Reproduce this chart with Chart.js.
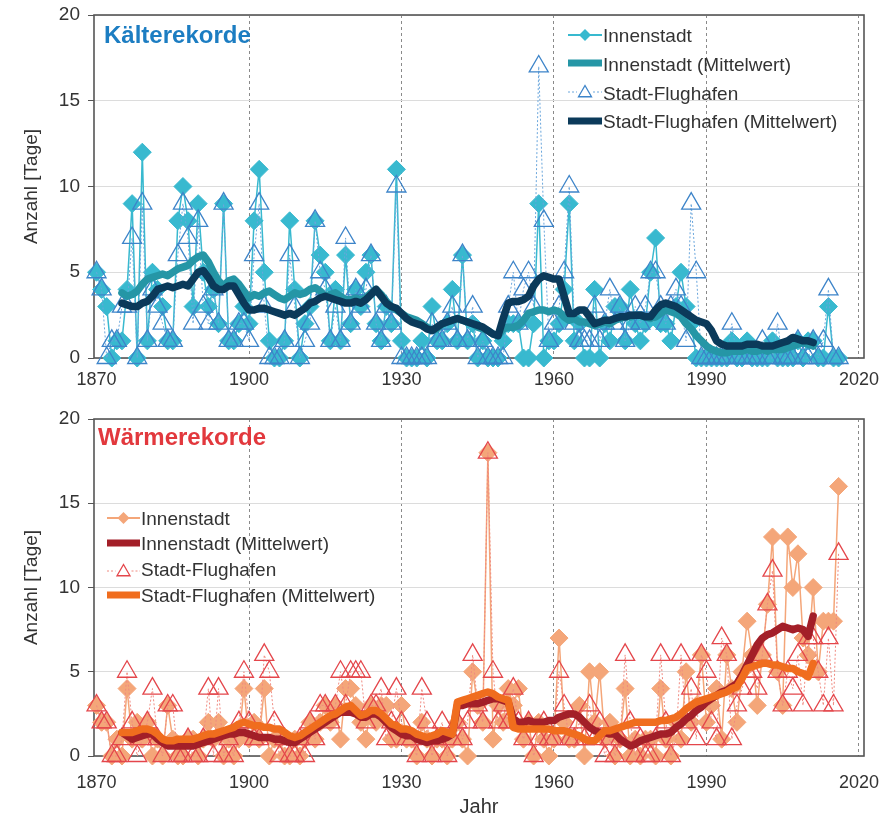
<!DOCTYPE html>
<html><head><meta charset="utf-8">
<script src="https://cdn.jsdelivr.net/npm/chart.js@4.4.1/dist/chart.umd.min.js"></script>
<style>
html,body{margin:0;padding:0;background:#fff;}
canvas{display:block;}
</style>
</head><body>
<canvas id="c1" width="891" height="400"></canvas>
<canvas id="c2" width="891" height="417"></canvas>
<script>
// ---------- categories ----------
const rawStartYear = 1870;   // raw yearly counts 1870–2016
const meanStartYear = 1875;  // running means 1875–2011
const xTickYears = [1870, 1900, 1930, 1960, 1990, 2020];
const yTickValues = [0, 5, 10, 15, 20];

// ---------- Kälterekorde ----------
const coldInner = [
  5,4,3,0,1,1,4,9,0,12,
  1,5,4,3,1,1,8,10,8,3,
  9,5,3,4,2,9,1,1,2,3,
  2,8,11,5,1,0,0,1,8,4,
  0,2,3,8,6,5,1,4,1,6,
  2,4,3,5,6,2,1,3,2,11,
  1,0,0,0,1,0,3,1,1,2,
  4,1,6,1,2,0,1,0,0,0,
  1,2,2,2,0,0,2,9,0,1,
  1,2,4,9,1,2,0,0,4,0,
  2,1,3,3,1,4,2,1,2,5,
  7,2,2,1,3,5,3,2,0,0,
  0,0,0,0,0,1,0,0,1,0,
  0,0,0,1,0,0,0,0,1,0,
  1,1,0,0,3,0,0
];
const coldAirport = [
  5,4,0,1,1,3,3,7,0,9,
  1,4,3,2,1,1,6,9,7,2,
  8,3,2,4,2,9,1,1,2,2,
  1,6,9,3,0,0,0,1,6,3,
  0,1,2,8,5,4,1,3,1,7,
  2,4,3,4,6,2,1,3,2,10,
  0,0,0,0,0,0,2,1,1,2,
  3,1,6,1,3,0,1,0,0,0,
  0,3,5,2,4,5,3,17,8,1,
  2,3,5,10,2,1,1,1,3,1,
  2,4,2,3,1,2,3,2,3,5,
  5,3,2,3,4,3,1,9,5,0,
  0,0,0,0,0,2,0,0,0,0,
  0,1,0,0,2,0,0,0,1,0,
  0,1,0,1,4,0,0
];
const coldInnerMean = [
  3.8,3.6,3.7,3.9,4.3,4.6,4.7,4.8,4.9,4.8,
  5.0,5.2,5.3,5.4,5.7,5.9,6.0,5.6,5.0,4.5,
  4.2,4.5,4.6,4.3,3.9,3.5,3.7,3.6,3.8,3.9,
  3.7,3.5,3.4,3.6,3.8,3.7,3.8,4.0,4.1,3.9,
  3.6,3.7,3.8,3.6,3.4,3.4,3.5,3.4,3.5,3.8,
  4.0,3.7,3.3,3.0,2.8,2.6,2.4,2.3,2.2,2.0,
  1.8,1.6,1.7,2.0,2.1,2.2,2.3,2.2,2.1,2.0,
  1.8,1.7,1.6,1.4,1.3,1.7,1.8,1.8,1.9,2.2,
  2.6,2.7,2.8,2.8,2.7,2.8,2.7,2.4,2.2,2.3,
  2.1,2.1,2.0,1.9,2.0,2.1,2.0,2.2,2.3,2.4,
  2.4,2.5,2.5,2.4,2.3,2.4,2.6,2.8,2.7,2.6,
  2.4,2.0,1.7,1.3,1.0,0.7,0.5,0.4,0.3,0.3,
  0.4,0.4,0.4,0.5,0.4,0.4,0.5,0.4,0.5,0.5,
  0.5,0.6,0.7,0.8,0.9,0.8,0.7
];
const coldAirportMean = [
  3.2,3.1,3.0,3.0,3.2,3.3,3.6,4.0,4.1,4.2,
  4.1,4.2,4.3,4.2,4.6,5.0,5.1,4.7,4.2,4.0,
  4.0,4.2,4.2,3.7,3.2,2.8,2.8,2.9,2.9,2.8,
  2.7,2.6,2.5,2.6,2.5,2.7,2.9,3.2,3.3,3.5,
  3.6,3.5,3.4,3.3,3.2,3.2,3.3,3.2,3.4,3.7,
  4.0,3.6,3.2,3.0,2.9,2.6,2.3,2.1,2.0,1.9,
  1.7,1.6,1.8,2.0,2.1,2.2,2.3,2.2,2.1,2.0,
  1.9,1.8,1.6,1.4,1.3,2.3,3.2,3.3,3.3,3.4,
  3.6,4.2,4.6,4.8,4.7,4.6,4.6,3.6,2.6,2.6,
  2.8,2.8,2.4,2.0,2.1,2.2,2.2,2.3,2.4,2.4,
  2.5,2.5,2.5,2.4,2.4,2.8,3.1,3.2,3.1,3.0,
  2.8,2.6,2.4,2.2,2.1,2.0,1.6,1.0,0.8,0.7,
  0.7,0.7,0.7,0.8,0.8,0.8,0.7,0.7,0.7,0.8,
  0.9,1.0,1.2,1.1,1.0,1.0,0.9
];

// ---------- Wärmerekorde ----------
const warmInner = [
  3,2,2,0,1,0,4,1,2,1,
  2,0,1,0,3,1,0,0,1,1,
  0,1,2,1,2,0,1,0,1,4,
  1,2,1,4,0,1,1,0,0,1,
  0,1,2,1,2,3,2,3,1,4,
  4,3,2,1,3,2,3,3,1,1,
  3,1,1,0,2,1,0,1,1,0,
  1,2,1,0,5,3,2,18,1,3,
  2,4,3,4,1,2,0,2,1,0,
  1,7,2,1,1,3,0,5,2,5,
  1,2,0,1,4,0,1,0,1,1,
  0,4,1,0,2,1,5,2,3,6,
  2,3,4,1,6,4,2,5,8,6,
  3,6,9,13,5,3,13,10,12,7,
  6,10,5,8,8,8,16
];
const warmAirport = [
  3,2,2,0,0,1,5,2,0,1,
  2,4,1,0,3,3,0,0,1,0,
  0,1,4,0,4,0,1,0,2,5,
  2,1,1,6,5,2,0,1,0,0,
  1,0,2,1,3,3,2,3,5,3,
  5,5,5,2,3,3,4,1,2,4,
  2,1,1,0,4,2,0,1,2,0,
  1,2,1,2,6,3,2,18,5,2,
  3,2,4,2,1,2,0,1,2,1,
  1,5,3,1,1,2,1,3,1,2,
  0,1,0,1,6,2,0,1,0,0,
  1,6,2,0,1,6,2,4,1,6,
  5,2,1,7,6,1,3,4,5,5,
  4,6,9,11,5,3,5,4,6,3,
  7,7,5,3,7,3,12
];
const warmInnerMean = [
  1.4,1.2,1.0,1.1,1.2,1.3,1.3,1.0,0.8,0.6,
  0.6,0.6,0.6,0.6,0.6,0.7,0.8,0.9,1.0,1.1,
  1.2,1.3,1.3,1.4,1.4,1.3,1.2,1.1,1.1,1.1,
  1.0,1.0,0.9,0.8,0.8,1.0,1.2,1.4,1.6,1.8,
  2.0,2.2,2.4,2.6,2.6,2.6,2.5,2.3,2.3,2.5,
  2.5,2.3,2.0,1.7,1.5,1.3,1.2,1.2,1.0,0.9,
  0.8,0.9,0.9,1.0,1.1,1.3,3.0,3.0,3.1,3.1,
  3.1,3.2,3.3,3.4,3.4,3.3,3.2,2.2,2.0,2.0,
  2.1,2.0,2.0,2.0,2.1,2.1,2.3,2.4,2.5,2.5,
  2.3,2.0,1.7,1.5,1.4,1.4,1.3,1.3,1.0,0.8,
  0.6,0.7,0.9,1.0,1.1,1.2,1.3,1.3,1.4,1.7,
  1.9,2.2,2.4,2.7,2.9,3.2,3.4,3.6,3.8,3.9,
  4.1,4.3,4.8,5.4,6.0,6.6,7.0,7.2,7.3,7.5,
  7.7,7.6,7.5,7.6,7.5,7.1,8.3
];
const warmAirportMean = [
  1.4,1.4,1.4,1.5,1.6,1.6,1.5,1.3,1.0,0.9,
  0.9,1.0,1.0,1.0,1.0,1.1,1.2,1.3,1.3,1.4,
  1.5,1.6,1.7,1.9,2.0,1.9,1.8,1.8,1.7,1.7,
  1.6,1.6,1.4,1.2,1.1,1.2,1.4,1.6,1.8,2.0,
  2.2,2.4,2.5,2.7,2.9,3.0,2.7,2.4,2.5,2.7,
  2.7,2.5,2.2,1.9,1.8,1.6,1.6,1.5,1.3,1.2,
  1.1,1.2,1.3,1.5,1.4,1.3,3.2,3.3,3.4,3.5,
  3.6,3.7,3.8,3.7,3.5,3.4,3.3,1.7,1.6,1.6,
  1.6,1.6,1.6,1.6,1.6,1.5,1.5,1.5,1.4,1.3,
  1.2,1.0,0.9,0.9,1.2,1.5,1.5,1.6,1.7,1.8,
  1.9,2.0,2.0,2.0,2.0,2.0,2.1,2.1,2.2,2.3,
  2.5,2.8,3.0,3.2,3.3,3.4,3.5,3.6,3.7,3.8,
  4.0,4.1,4.6,5.2,5.3,5.4,5.5,5.5,5.4,5.4,
  5.3,5.2,5.2,5.0,4.9,4.7,5.5
];

const legendLabels = ['Innenstadt', 'Innenstadt (Mittelwert)', 'Stadt-Flughafen', 'Stadt-Flughafen (Mittelwert)'];

// ---------- helpers ----------
const toPoints = (arr, start) => arr.map((v, i) => ({x: start + i, y: v}));
const FONT = "'Liberation Sans', Arial, sans-serif";

function pathDiamond(ctx, x, y, r) {
  ctx.beginPath(); ctx.moveTo(x, y - r); ctx.lineTo(x + r, y); ctx.lineTo(x, y + r); ctx.lineTo(x - r, y); ctx.closePath();
}
function pathTriangle(ctx, x, y, r) {
  ctx.beginPath(); ctx.moveTo(x, y - r); ctx.lineTo(x + r * 0.866, y + r / 2); ctx.lineTo(x - r * 0.866, y + r / 2); ctx.closePath();
}

const framePlugin = {
  id: 'frame',
  beforeDatasetsDraw(chart) {
    const {ctx, chartArea: a} = chart;
    ctx.save();
    ctx.strokeStyle = '#555';
    ctx.lineWidth = 1.6;
    ctx.strokeRect(a.left, a.top, a.right - a.left, a.bottom - a.top);
    ctx.restore();
  }
};

const decorPlugin = {
  id: 'decor',
  afterDraw(chart, args, o) {
    const ctx = chart.ctx;
    ctx.save();
    ctx.font = 'bold 24px ' + FONT;
    ctx.fillStyle = o.titleColor;
    ctx.textBaseline = 'alphabetic';
    ctx.textAlign = 'left';
    ctx.fillText(o.title, o.titleX, o.titleY);
    const L = o.legend;
    ctx.font = '19px ' + FONT;
    L.items.forEach((it, i) => {
      const ys = L.symY[i], cx = (L.x0 + L.x1) / 2;
      ctx.setLineDash([]);
      if (it.kind === 'diamond') {
        ctx.strokeStyle = it.color; ctx.lineWidth = 2;
        ctx.beginPath(); ctx.moveTo(L.x0, ys); ctx.lineTo(L.x1, ys); ctx.stroke();
        ctx.fillStyle = it.color; pathDiamond(ctx, cx, ys, 6); ctx.fill();
      } else if (it.kind === 'thick') {
        ctx.strokeStyle = it.color; ctx.lineWidth = 7;
        ctx.beginPath(); ctx.moveTo(L.x0, ys); ctx.lineTo(L.x1, ys); ctx.stroke();
      } else {
        ctx.strokeStyle = it.lineColor; ctx.lineWidth = 1; ctx.setLineDash([2, 2]);
        ctx.beginPath(); ctx.moveTo(L.x0, ys); ctx.lineTo(cx - 8, ys); ctx.moveTo(cx + 8, ys); ctx.lineTo(L.x1, ys); ctx.stroke();
        ctx.setLineDash([]);
        ctx.strokeStyle = it.color; ctx.lineWidth = 1.3;
        pathTriangle(ctx, cx, ys + 1, 7.5); ctx.stroke();
      }
      ctx.fillStyle = '#333';
      ctx.fillText(legendLabels[i], L.textX, L.textY[i]);
    });
    ctx.restore();
  }
};

function makeChart(id, cfg) {
  const H = document.getElementById(id).height;
  const datasets = [
    {
      data: toPoints(cfg.airportMean, meanStartYear),
      borderColor: cfg.cAirportMean, borderWidth: 7.5, pointRadius: 0,
      borderJoinStyle: 'round', borderCapStyle: 'round', clip: false
    },
    {
      data: toPoints(cfg.innerMean, meanStartYear),
      borderColor: cfg.cInnerMean, borderWidth: 7.5, pointRadius: 0,
      borderJoinStyle: 'round', borderCapStyle: 'round', clip: false
    },
    {
      data: toPoints(cfg.airport, rawStartYear),
      borderColor: cfg.cAirportLine, borderWidth: 1, borderDash: [2, 2],
      pointStyle: 'triangle', pointRadius: 11,
      pointBorderColor: cfg.cAirport, pointBackgroundColor: 'rgba(0,0,0,0)', pointBorderWidth: 1.3,
      clip: false
    },
    {
      data: toPoints(cfg.inner, rawStartYear),
      borderColor: cfg.cInner, borderWidth: 1.5,
      pointStyle: 'rectRot', pointRadius: 9,
      pointBorderColor: cfg.cInner, pointBackgroundColor: cfg.cInner, pointBorderWidth: 1,
      clip: false
    }
  ];
  return new Chart(document.getElementById(id), {
    type: 'line',
    data: {datasets},
    plugins: [framePlugin, decorPlugin],
    options: {
      responsive: false, animation: false, devicePixelRatio: 1,
      layout: {padding: {left: 18, right: 27, top: cfg.top, bottom: 0}},
      elements: {line: {tension: 0}},
      plugins: {
        legend: {display: false}, tooltip: {enabled: false},
        decor: cfg.decor
      },
      scales: {
        x: {
          type: 'linear', min: 1869.5, max: 2021,
          afterBuildTicks: s => { s.ticks = xTickYears.map(v => ({value: v})); },
          afterFit: s => { s.height = H - cfg.bottom; s.paddingLeft = 0; s.paddingRight = 0; },
          ticks: {color: '#333', font: {family: FONT, size: 18}, padding: cfg.xPad, maxRotation: 0, autoSkip: false,
                  callback: v => String(v)},
          grid: {
            drawTicks: false,
            color: c => (c.tick && c.tick.value === 1870) ? 'rgba(0,0,0,0)' : '#8a8a8a',
            lineWidth: 1
          },
          border: {display: false, dash: [3, 3]},
          title: cfg.xTitle ? {display: true, text: 'Jahr', color: '#333',
                   font: {family: FONT, size: 20, lineHeight: 1.0}, padding: {top: 0, bottom: 0}} : {display: false}
        },
        y: {
          min: 0, max: 20,
          afterBuildTicks: s => { s.ticks = yTickValues.map(v => ({value: v})); },
          afterFit: s => { s.width = 94 - 18; s.paddingTop = 0; s.paddingBottom = 0; },
          ticks: {color: '#333', font: {family: FONT, size: 19}, padding: 8},
          grid: {color: '#dcdcdc', lineWidth: 1, tickColor: '#555', tickLength: 6, drawTicks: true},
          border: {display: false},
          title: {display: true, text: 'Anzahl [Tage]', color: '#333',
                  font: {family: FONT, size: 19}, padding: {top: 2, bottom: 0}}
        }
      }
    }
  });
}

makeChart('c1', {
  inner: coldInner, airport: coldAirport, innerMean: coldInnerMean, airportMean: coldAirportMean,
  cInner: '#38b9cf', cInnerMean: '#2596a6', cAirport: '#3d84c9', cAirportLine: '#6aa6dc', cAirportMean: '#0b3a5a',
  top: 15, bottom: 358, xPad: 11, xTitle: false,
  decor: {
    title: 'Kälterekorde', titleColor: '#1c7dc2', titleX: 104, titleY: 43,
    legend: {
      x0: 568, x1: 602, textX: 603,
      symY: [35, 63, 92, 121], textY: [42, 71, 100, 128],
      items: [
        {kind: 'diamond', color: '#38b9cf'},
        {kind: 'thick', color: '#2596a6'},
        {kind: 'triangle', color: '#3d84c9', lineColor: '#6aa6dc'},
        {kind: 'thick', color: '#0b3a5a'}
      ]
    }
  }
});

makeChart('c2', {
  inner: warmInner, airport: warmAirport, innerMean: warmInnerMean, airportMean: warmAirportMean,
  cInner: '#f4a679', cInnerMean: '#a31f28', cAirport: '#e4464b', cAirportLine: '#f08a80', cAirportMean: '#f06d1e',
  top: 19, bottom: 356, xPad: 16, xTitle: true,
  decor: {
    title: 'Wärmerekorde', titleColor: '#e2383d', titleX: 98, titleY: 45,
    legend: {
      x0: 107, x1: 140, textX: 141,
      symY: [118, 143, 171, 195], textY: [125, 150, 176, 202],
      items: [
        {kind: 'diamond', color: '#f4a679'},
        {kind: 'thick', color: '#a31f28'},
        {kind: 'triangle', color: '#e4464b', lineColor: '#f08a80'},
        {kind: 'thick', color: '#f06d1e'}
      ]
    }
  }
});
</script>
</body></html>
